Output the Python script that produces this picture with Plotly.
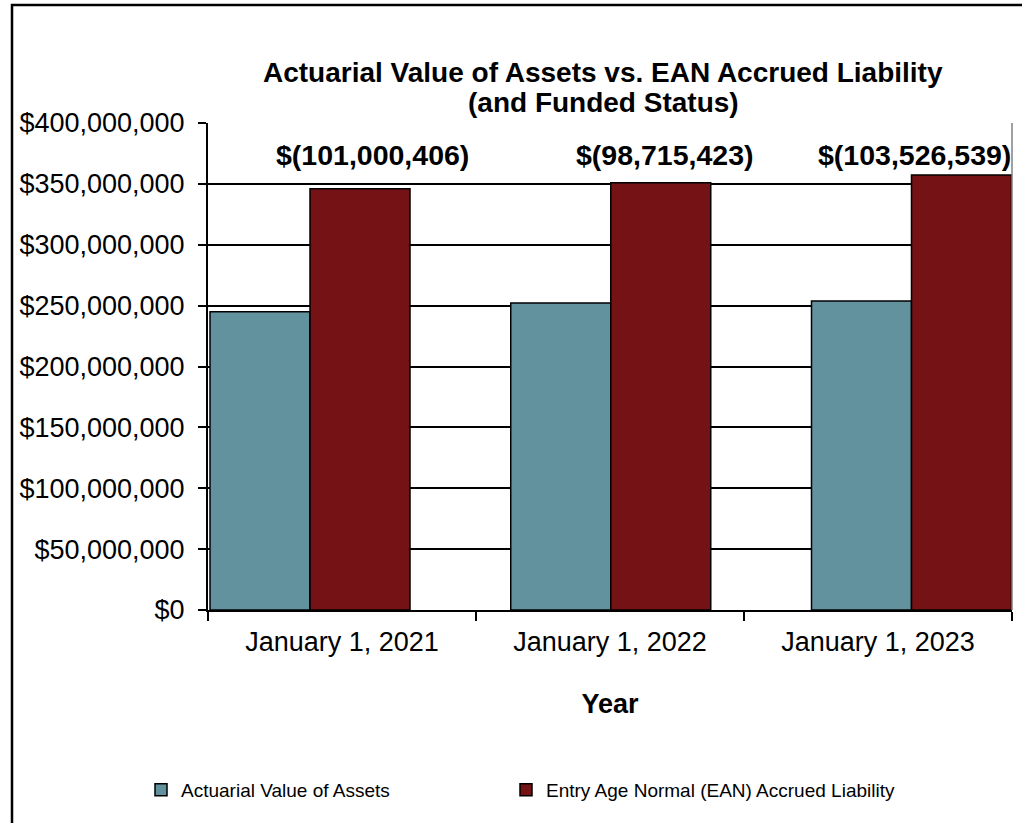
import plotly.graph_objects as go

CATEGORIES = ["January 1, 2021", "January 1, 2022", "January 1, 2023"]
ASSETS = [244_950_000, 252_200_000, 253_700_000]
LIABILITY = [345_950_000, 350_915_000, 357_226_000]
FUNDED_STATUS = [-101_000_406, -98_715_423, -103_526_539]
SERIES_NAMES = ["Actuarial Value of Assets", "Entry Age Normal (EAN) Accrued Liability"]
Y_TICKS = [0, 50_000_000, 100_000_000, 150_000_000, 200_000_000,
           250_000_000, 300_000_000, 350_000_000, 400_000_000]

FONT = "Liberation Sans, Arial, sans-serif"
TEAL = "#62929E"
MAROON = "#751215"

W, H = 1022, 823
L, R, T, B = 208, 10, 123, 823 - 610
PW, PH = W - L - R, H - T - B

def px_x(x):
    return (x - L) / PW

def px_y(y):
    return (H - B - y) / PH

fig = go.Figure()
# invisible trace carrying the category tick axis
fig.add_trace(go.Scatter(x=CATEGORIES, y=ASSETS, mode="markers", marker=dict(opacity=0),
                         showlegend=False, hoverinfo="skip", xaxis="x", yaxis="y"))
fig.add_trace(go.Bar(x=CATEGORIES, y=ASSETS, name=SERIES_NAMES[0], xaxis="x2", yaxis="y",
                     legend="legend",
                     marker=dict(color=TEAL, line=dict(color="black", width=1.5))))
fig.add_trace(go.Bar(x=CATEGORIES, y=LIABILITY, name=SERIES_NAMES[1], xaxis="x2", yaxis="y",
                     legend="legend2",
                     marker=dict(color=MAROON, line=dict(color="black", width=1.5))))

def fmt_money(v):
    s = f"{abs(v):,.0f}"
    return f"$({s})" if v < 0 else f"${s}"

label_shift = [62, 54, 3]
annotations = []
for cat, v, sh in zip(CATEGORIES, FUNDED_STATUS, label_shift):
    annotations.append(dict(x=cat, y=374_000_000, xref="x2", yref="y", text=fmt_money(v),
                            showarrow=False, xshift=sh, xanchor="center", yanchor="middle",
                            font=dict(family=FONT, size=28.5, color="black", weight="bold")))

annotations.append(dict(x=px_x(603), y=px_y(73), xref="paper", yref="paper",
                        xanchor="center", yanchor="middle",
                        text="Actuarial Value of Assets vs. EAN Accrued Liability",
                        showarrow=False, font=dict(family=FONT, size=28, color="black", weight="bold")))
annotations.append(dict(x=px_x(603), y=px_y(102), xref="paper", yref="paper",
                        xanchor="center", yanchor="middle",
                        text="(and Funded Status)",
                        showarrow=False, font=dict(family=FONT, size=28, color="black", weight="bold")))

shapes = [
    dict(type="rect", xref="paper", yref="paper", x0=px_x(12), x1=px_x(1050),
         y0=px_y(5), y1=px_y(850), line=dict(color="black", width=2.5), layer="above"),
    dict(type="line", xref="paper", yref="paper", x0=1, x1=1, y0=0, y1=1,
         line=dict(color="#808080", width=1.5)),
]

# bar groups are spaced wider than the category ticks in the reference
x2_left = -102 / 300.75
x2_right = (1012 - 310) / 300.75

legend_common = dict(orientation="h", yanchor="middle", xanchor="left",
                     font=dict(family=FONT, size=19, color="black"), itemwidth=30,
                     bgcolor="rgba(0,0,0,0)")

fig.update_layout(
    width=W, height=H,
    margin=dict(l=L, r=R, t=T, b=B, pad=0),
    paper_bgcolor="white", plot_bgcolor="white",
    barmode="group", bargap=0.335, bargroupgap=0,
    font=dict(family=FONT, color="black"),
    showlegend=True,
    legend=dict(x=px_x(141), y=px_y(790), **legend_common),
    legend2=dict(x=px_x(506), y=px_y(790), **legend_common),
    annotations=annotations,
    shapes=shapes,
    xaxis=dict(type="category", range=[-0.5, 2.5], showline=True, linecolor="black", linewidth=2,
               ticks="outside", tickson="boundaries", ticklen=9, tickwidth=2, tickcolor="black",
               ticklabelstandoff=7,
               tickfont=dict(family=FONT, size=27, color="black"),
               title=dict(text="<b>Year</b>", font=dict(family=FONT, size=27, color="black"), standoff=38),
               showgrid=False, zeroline=False),
    xaxis2=dict(type="category", overlaying="x", range=[x2_left, x2_right], visible=False,
                showgrid=False, zeroline=False),
    yaxis=dict(range=[0, 400_000_000], tickvals=Y_TICKS, tickformat="$,.0f",
               showline=True, linecolor="black", linewidth=2,
               ticks="outside", ticklen=8, tickwidth=2, tickcolor="black",
               ticklabelstandoff=8,
               tickfont=dict(family=FONT, size=27, color="black"),
               showgrid=True, gridcolor="black", gridwidth=1.5, zeroline=False),
)

fig.write_html("out.html", config={"displayModeBar": False},
               post_script="document.body.style.margin='0';")
